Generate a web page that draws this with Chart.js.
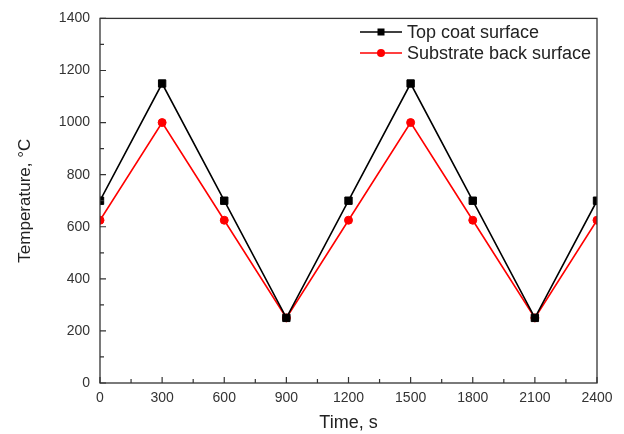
<!DOCTYPE html>
<html>
<head>
<meta charset="utf-8">
<script src="https://cdn.jsdelivr.net/npm/chart.js@4.4.1/dist/chart.umd.min.js"></script>
<style>
html,body{margin:0;padding:0;background:#fff;}
#wrap{width:624px;height:434px;}
</style>
</head>
<body>
<div id="wrap"><canvas id="c" width="624" height="434"></canvas></div>
<script>
const times = [0, 300, 600, 900, 1200, 1500, 1800, 2100, 2400];
const topCoat = [700, 1150, 700, 250, 700, 1150, 700, 250, 700];
const substrate = [625, 1000, 625, 250, 625, 1000, 625, 250, 625];
const seriesNames = ['Top coat surface', 'Substrate back surface'];
const xTicks = [0, 300, 600, 900, 1200, 1500, 1800, 2100, 2400];
const yTicks = [0, 200, 400, 600, 800, 1000, 1200, 1400];

const FONT = '"Liberation Sans", Arial, sans-serif';
const toPts = (ys) => times.map((t, i) => ({x: t, y: ys[i]}));

const frameTicks = {
  id: 'frameTicks',
  afterDatasetsDraw(chart) {
    const {ctx, chartArea: a, scales} = chart;
    const xs = scales.x, ys = scales.y;
    ctx.save();
    ctx.strokeStyle = '#333';
    ctx.lineWidth = 1.3;
    ctx.strokeRect(a.left, a.top, a.right - a.left, a.bottom - a.top);
    ctx.lineWidth = 1.2;
    ctx.beginPath();
    for (let v = 0; v <= 2400; v += 150) {
      const p = xs.getPixelForValue(v);
      const len = (v % 300 === 0) ? 6 : 4;
      ctx.moveTo(p, a.bottom); ctx.lineTo(p, a.bottom - len);
    }
    for (let v = 0; v <= 1400; v += 100) {
      const p = ys.getPixelForValue(v);
      const len = (v % 200 === 0) ? 6 : 4;
      ctx.moveTo(a.left, p); ctx.lineTo(a.left + len, p);
    }
    ctx.stroke();
    // legend
    const ds = chart.data.datasets;
    const lx = 360, ly0 = 32, dy = 21;
    ds.forEach((d, i) => {
      const y = ly0 + i * dy;
      ctx.strokeStyle = d.borderColor;
      ctx.lineWidth = 1.5;
      ctx.beginPath(); ctx.moveTo(lx, y); ctx.lineTo(lx + 42, y); ctx.stroke();
      ctx.fillStyle = d.pointBackgroundColor;
      if (d.pointStyle === 'rect') {
        ctx.fillRect(lx + 21 - 3.5, y - 3.5, 7, 7);
      } else {
        ctx.beginPath(); ctx.arc(lx + 21, y, 4, 0, Math.PI * 2); ctx.fill();
      }
      ctx.fillStyle = '#222';
      ctx.font = '18px ' + FONT;
      ctx.textBaseline = 'middle';
      ctx.textAlign = 'left';
      ctx.fillText(d.label, lx + 47, y + 1);
    });
    ctx.restore();
  }
};

new Chart(document.getElementById('c'), {
  type: 'line',
  data: {
    datasets: [
      {
        label: seriesNames[0],
        data: toPts(topCoat),
        borderColor: '#000',
        backgroundColor: '#000',
        pointBackgroundColor: '#000',
        pointBorderColor: '#000',
        pointStyle: 'rect',
        pointRadius: 5.2,
        pointBorderWidth: 1,
        borderWidth: 1.6,
        tension: 0
      },
      {
        label: seriesNames[1],
        data: toPts(substrate),
        borderColor: '#f00',
        backgroundColor: '#f00',
        pointBackgroundColor: '#f00',
        pointBorderColor: '#f00',
        pointStyle: 'circle',
        pointRadius: 4,
        pointBorderWidth: 1,
        borderWidth: 1.6,
        tension: 0
      }
    ]
  },
  options: {
    responsive: false,
    animation: false,
    layout: {padding: {top: 16, right: 27, left: 0, bottom: 0}},
    plugins: {legend: {display: false}, tooltip: {enabled: false}},
    scales: {
      x: {
        type: 'linear',
        min: 0, max: 2400,
        afterBuildTicks(s) { s.ticks = xTicks.map(v => ({value: v})); },
        afterFit(s) { s.height = 51; },
        grid: {display: false, drawTicks: false},
        border: {display: false},
        ticks: {color: '#333', font: {size: 14, family: FONT}, padding: 7, maxRotation: 0,
                callback: (v) => String(v)},
        title: {display: true, text: 'Time, s', color: '#222', font: {size: 18, family: FONT}, padding: {top: 0, bottom: 0}}
      },
      y: {
        min: 0, max: 1400,
        afterBuildTicks(s) { s.ticks = yTicks.map(v => ({value: v})); },
        afterFit(s) { s.width = 100; },
        grid: {display: false, drawTicks: false},
        border: {display: false},
        ticks: {color: '#333', font: {size: 14, family: FONT}, padding: 10,
                callback: (v) => String(v)},
        title: {display: true, text: 'Temperature, °C', color: '#222', font: {size: 17, family: FONT}, padding: {top: 15, bottom: 4}}
      }
    }
  },
  plugins: [frameTicks]
});
</script>
</body>
</html>
